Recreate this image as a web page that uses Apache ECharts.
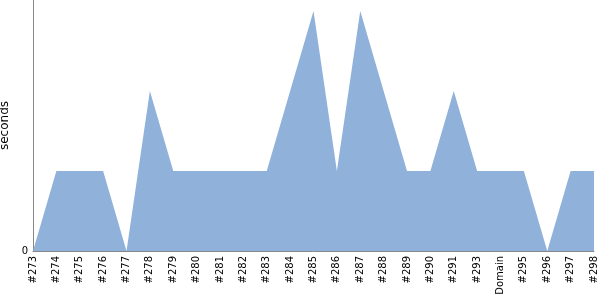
<!DOCTYPE html>
<html><head><meta charset="utf-8">
<script src="https://cdn.jsdelivr.net/npm/echarts@6/dist/echarts.min.js"></script>
<style>html,body{margin:0;padding:0;background:#fff}#c{width:600px;height:300px}</style>
</head><body><div id="c"></div>
<script>
const categories = ['#273','#274','#275','#276','#277','#278','#279','#280','#281','#282','#283','#284','#285','#286','#287','#288','#289','#290','#291','#293','Domain','#295','#296','#297','#298'];
const seconds = [0,1,1,1,0,2,1,1,1,1,1,2,3,1,3,2,1,1,2,1,1,1,0,1,1];
const yTicks = [0];
const chart = echarts.init(document.getElementById('c'));
chart.setOption({
  animation:false,
  grid:{left:33,right:6,top:0,bottom:49,containLabel:false,outerBoundsMode:'none'},
  xAxis:{type:'category',data:categories,boundaryGap:false,
    axisLine:{lineStyle:{color:'#888',width:1}},axisTick:{show:false},
    axisLabel:{rotate:90,interval:0,color:'#000',fontFamily:'DejaVu Sans',fontSize:10,margin:5}},
  yAxis:{type:'value',min:0,max:3.1375,name:'seconds',nameLocation:'middle',nameGap:16,
    nameTextStyle:{fontFamily:'DejaVu Sans',fontSize:12,color:'#000'},
    axisLine:{show:true,lineStyle:{color:'#888'}},axisTick:{show:false},splitLine:{show:false},
    axisLabel:{color:'#000',fontFamily:'DejaVu Sans',fontSize:10,margin:5,
      customValues:yTicks},
    },
  series:[{type:'line',data:seconds,symbol:'none',lineStyle:{width:0},
    areaStyle:{color:'#8fb1da',opacity:1}}]
});
</script></body></html>
